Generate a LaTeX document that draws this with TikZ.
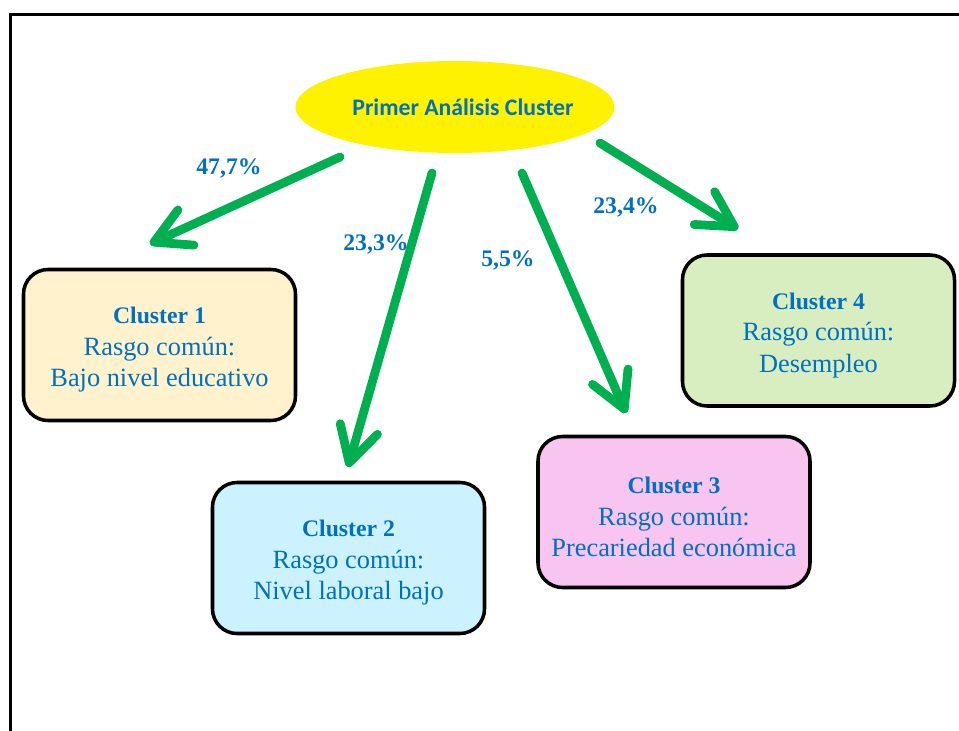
\documentclass[tikz,border=0pt]{standalone}
\usepackage{fontspec}
\setmainfont{Liberation Serif}
\newfontfamily\titlefont{Carlito}
\usetikzlibrary{arrows.meta,shapes.geometric}
\definecolor{txtblue}{RGB}{0,112,192}
\definecolor{arrgreen}{RGB}{0,176,80}
\definecolor{fillone}{RGB}{255,242,204}
\definecolor{filltwo}{RGB}{204,242,255}
\definecolor{fillthree}{RGB}{248,196,240}
\definecolor{fillfour}{RGB}{216,238,192}
\newcommand{\boxhead}[1]{\rule{0pt}{15pt}{\fontsize{13.5}{17.9}\selectfont\bfseries #1}}
\begin{document}
\begin{tikzpicture}[x=0.2mm, y=-0.2mm,
    clusterbox/.style={draw, line width=2pt, rounded corners=14pt, minimum width=54.4mm,
        minimum height=30.2mm, align=center, text=txtblue,
        font=\fontsize{15}{17.9}\selectfont},
    flow/.style={arrgreen, line width=5pt, line cap=round,
        -{Straight Barb[length=20pt, width=22pt, round]}},
    pct/.style={text=txtblue, font=\fontsize{13.5}{16}\selectfont\bfseries}]
    \useasboundingbox (0,0) rectangle (959,731);
    \draw[line width=1.7pt] (10.5,731) -- (10.5,14.5) -- (959,14.5);
    \node[ellipse, fill=yellow, inner xsep=-12pt, inner ysep=0pt, minimum width=63.8mm, minimum height=18.4mm, text=txtblue,
        font=\titlefont\fontsize{13.5}{16}\selectfont\bfseries] (title) at (455,107) {\hspace*{3.2mm}Primer Análisis Cluster};
    \node[clusterbox, fill=fillone] (c1) at (159.5,345) {\boxhead{Cluster 1}\\Rasgo común:\\Bajo nivel educativo};
    \node[clusterbox, fill=filltwo] (c2) at (348.5,558) {\boxhead{Cluster 2}\\Rasgo común:\\Nivel laboral bajo};
    \node[clusterbox, fill=fillthree] (c3) at (674,512) {\boxhead{Cluster 3}\\Rasgo común:\\Precariedad económica};
    \node[clusterbox, fill=fillfour] (c4) at (818.5,330.5) {\boxhead{Cluster 4}\\Rasgo común:\\Desempleo};
    \coordinate (s1) at (340,157); \coordinate (e1) at (150,244);
    \coordinate (s2) at (432,173); \coordinate (e2) at (348,467);
    \coordinate (s3) at (522,173); \coordinate (e3) at (626,413);
    \coordinate (s4) at (600,143); \coordinate (e4) at (738,229);
    \draw[flow] (s1) -- (e1);
    \draw[flow] (s2) -- (e2);
    \draw[flow] (s3) -- (e3);
    \draw[flow] (s4) -- (e4);
    \node[pct] (l1) at (229,168) {47,7\%};
    \node[pct] (l2) at (376,244) {23,3\%};
    \node[pct] (l3) at (508,260) {5,5\%};
    \node[pct] (l4) at (626,207) {23,4\%};
\end{tikzpicture}
\end{document}
